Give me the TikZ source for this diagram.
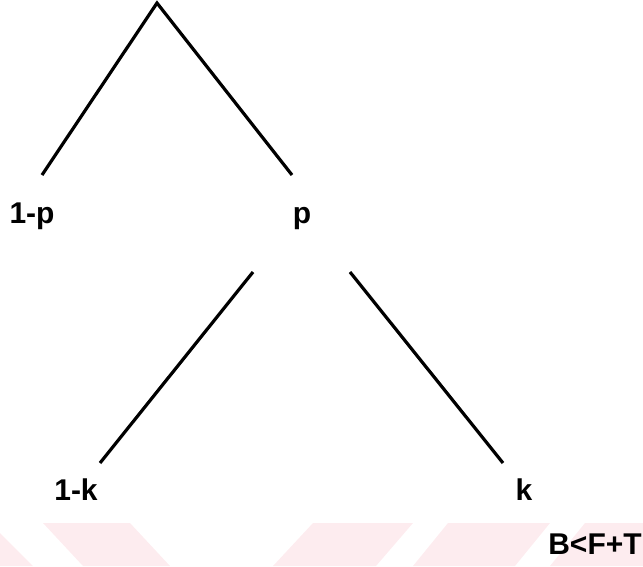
\documentclass[tikz,border=0pt]{standalone}
\usepackage{fontspec}
\setmainfont{Liberation Sans}
\definecolor{bandpink}{RGB}{253,236,239}

\begin{document}
\begin{tikzpicture}[x=1pt,y=-1pt,line width=3.2pt,
  lab/.style={anchor=base,inner sep=0pt,font=\fontsize{30}{30}\selectfont\bfseries}]
  \useasboundingbox (0,0) rectangle (643,566);
  % pale band at the bottom
  \fill[bandpink] (0,533)--(33,566)--(0,566)--cycle;
  \fill[bandpink] (43,523)--(130,523)--(170,566)--(83,566)--cycle;
  \fill[bandpink] (313,523)--(413,523)--(376,566)--(273,566)--cycle;
  \fill[bandpink] (448,523)--(550,523)--(515,566)--(413,566)--cycle;
  \fill[bandpink] (585,523)--(643,523)--(643,566)--(550,566)--cycle;

      \coordinate (O) at (157, 3);
         \coordinate (L) at (42, 175);
           \coordinate (R) at (292, 175);
             \coordinate (P) at (253, 272);
               \coordinate (Q) at (350, 272);
                 \coordinate (L1) at (100, 463);
                   \coordinate (R1) at (503, 463);
       \node[lab] (np) at (32,223) {1-p};
         \node[lab] (p) at (302,223) {p};
            \node[lab] (nk) at (76,500) {1-k};
               \node[lab] (k) at (524,500) {k};
             \node[lab] (cond) at (595,554) {B<F+T};

  \draw (L)--(O)--(R)(P)--(L1)(Q)--(R1);
   \end{tikzpicture}
\end{document}
